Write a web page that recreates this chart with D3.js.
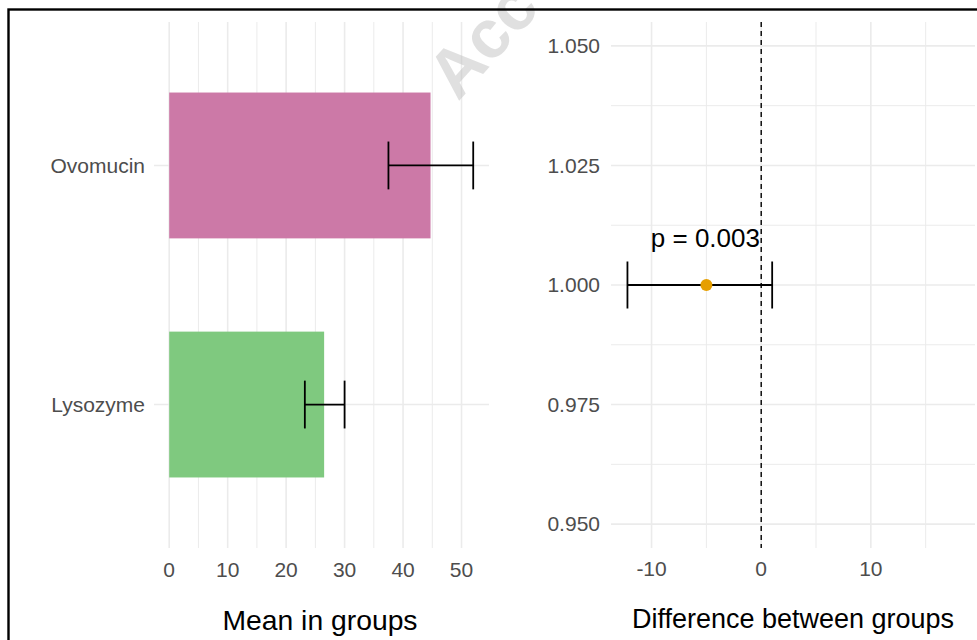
<!DOCTYPE html>
<html>
<head>
<meta charset="utf-8">
<script src="https://cdn.jsdelivr.net/npm/d3@7"></script>
<style>
  html, body { margin: 0; padding: 0; background: #fff; }
  svg { display: block; font-family: "Liberation Sans", Arial, sans-serif; }
</style>
</head>
<body>
<svg id="chart" width="977" height="640"></svg>
<script>
// ---- data ----
const categories = ["Lysozyme", "Ovomucin"];
const means = [26.5, 44.7];
const errLow = [23.2, 37.5];
const errHigh = [30.0, 52.0];
const barColors = ["#7FC97F", "#CC79A7"];

const meanTicks = [0, 10, 20, 30, 40, 50];
const meanMinorTicks = [5, 15, 25, 35, 45];

const diffEstimate = [-5.0];
const diffLow = [-12.2];
const diffHigh = [1.0];
const diffRow = [1.0];
const pLabels = ["p = 0.003"];
const diffXTicks = [-10, 0, 10];
const diffXMinor = [-5, 5, 15];
const diffYTicks = [0.950, 0.975, 1.000, 1.025, 1.050];
const diffYMinor = [0.9625, 0.9875, 1.0125, 1.0375];

(function () {
// ---- layout ----
const svg = d3.select("#chart");
const pTop = 22, pBottom = 548;
const gridColor = "#EBEBEB";
const tickColor = "#4D4D4D";

// ---------- left panel ----------
const xL = d3.scaleLinear().domain([-2.6, 54.7]).range([154, 489]);
const yLp = d3.scalePoint().domain(categories.slice().reverse()).range([pTop, pBottom]).padding(0.6);
const step = yLp.step();

const gL = svg.append("g");
gL.selectAll("line.minor").data(meanMinorTicks).join("line")
  .attr("x1", d => xL(d)).attr("x2", d => xL(d)).attr("y1", pTop).attr("y2", pBottom)
  .attr("stroke", gridColor).attr("stroke-width", 1);
gL.selectAll("line.major").data(meanTicks).join("line")
  .attr("x1", d => xL(d)).attr("x2", d => xL(d)).attr("y1", pTop).attr("y2", pBottom)
  .attr("stroke", gridColor).attr("stroke-width", 1.6);
gL.selectAll("line.hmajor").data(categories).join("line")
  .attr("x1", xL.range()[0]).attr("x2", xL.range()[1])
  .attr("y1", d => yLp(d)).attr("y2", d => yLp(d))
  .attr("stroke", gridColor).attr("stroke-width", 1.6);

// bars
gL.selectAll("rect.bar").data(categories).join("rect")
  .attr("x", xL(0)).attr("width", (d, i) => xL(means[i]) - xL(0))
  .attr("y", d => yLp(d) - step * 0.305).attr("height", step * 0.61)
  .attr("fill", (d, i) => barColors[i]);

// error bars
const eb = gL.selectAll("g.eb").data(categories).join("g");
eb.append("line")
  .attr("x1", (d, i) => xL(errLow[i])).attr("x2", (d, i) => xL(errHigh[i]))
  .attr("y1", d => yLp(d)).attr("y2", d => yLp(d))
  .attr("stroke", "#000").attr("stroke-width", 1.8);
eb.append("line")
  .attr("x1", (d, i) => xL(errLow[i])).attr("x2", (d, i) => xL(errLow[i]))
  .attr("y1", d => yLp(d) - step * 0.1).attr("y2", d => yLp(d) + step * 0.1)
  .attr("stroke", "#000").attr("stroke-width", 1.8);
eb.append("line")
  .attr("x1", (d, i) => xL(errHigh[i])).attr("x2", (d, i) => xL(errHigh[i]))
  .attr("y1", d => yLp(d) - step * 0.1).attr("y2", d => yLp(d) + step * 0.1)
  .attr("stroke", "#000").attr("stroke-width", 1.8);

// axes labels
gL.selectAll("text.xt").data(meanTicks).join("text")
  .attr("x", d => xL(d)).attr("y", 577).attr("text-anchor", "middle")
  .attr("font-size", 21).attr("fill", tickColor).text(d => d);
gL.selectAll("text.yt").data(categories).join("text")
  .attr("x", 145).attr("y", d => yLp(d)).attr("dy", "0.35em").attr("text-anchor", "end")
  .attr("font-size", 21).attr("fill", tickColor).text(d => d);
gL.append("text").attr("x", 320).attr("y", 630)
  .attr("text-anchor", "middle").attr("font-size", 28.3).attr("fill", "#000").text("Mean in groups");

// ---------- right panel ----------
const xR = d3.scaleLinear().domain([-13.7, 19.5]).range([611, 975]);
const yR = d3.scaleLinear().domain([0.945, 1.055]).range([pBottom, pTop]);

const gR = svg.append("g");
gR.selectAll("line.minx").data(diffXMinor).join("line")
  .attr("x1", d => xR(d)).attr("x2", d => xR(d)).attr("y1", pTop).attr("y2", pBottom)
  .attr("stroke", gridColor).attr("stroke-width", 1);
gR.selectAll("line.miny").data(diffYMinor).join("line")
  .attr("x1", xR.range()[0]).attr("x2", xR.range()[1]).attr("y1", d => yR(d)).attr("y2", d => yR(d))
  .attr("stroke", gridColor).attr("stroke-width", 1);
gR.selectAll("line.majx").data(diffXTicks).join("line")
  .attr("x1", d => xR(d)).attr("x2", d => xR(d)).attr("y1", pTop).attr("y2", pBottom)
  .attr("stroke", gridColor).attr("stroke-width", 1.6);
gR.selectAll("line.majy").data(diffYTicks).join("line")
  .attr("x1", xR.range()[0]).attr("x2", xR.range()[1]).attr("y1", d => yR(d)).attr("y2", d => yR(d))
  .attr("stroke", gridColor).attr("stroke-width", 1.6);

// dashed zero line
gR.append("line").attr("x1", xR(0)).attr("x2", xR(0)).attr("y1", pTop).attr("y2", pBottom)
  .attr("stroke", "#000").attr("stroke-width", 1.4).attr("stroke-dasharray", "5,4");

// error bar
const capH = 23.5;
diffRow.forEach((r, i) => {
  gR.append("line").attr("x1", xR(diffLow[i])).attr("x2", xR(diffHigh[i]))
    .attr("y1", yR(r)).attr("y2", yR(r)).attr("stroke", "#000").attr("stroke-width", 1.8);
  [diffLow[i], diffHigh[i]].forEach(v => {
    gR.append("line").attr("x1", xR(v)).attr("x2", xR(v))
      .attr("y1", yR(r) - capH).attr("y2", yR(r) + capH).attr("stroke", "#000").attr("stroke-width", 1.8);
  });
  gR.append("circle").attr("cx", xR(diffEstimate[i])).attr("cy", yR(r)).attr("r", 6).attr("fill", "#E69F00");
  gR.append("text").attr("x", xR(diffEstimate[i]) - 1).attr("y", 247).attr("text-anchor", "middle")
    .attr("font-size", 26).attr("fill", "#000").text(pLabels[i]);
});

gR.selectAll("text.xt").data(diffXTicks).join("text")
  .attr("x", d => xR(d)).attr("y", 576).attr("text-anchor", "middle")
  .attr("font-size", 21).attr("fill", tickColor).text(d => d);
gR.selectAll("text.yt").data(diffYTicks).join("text")
  .attr("x", 600).attr("y", d => yR(d)).attr("dy", "0.35em").attr("text-anchor", "end")
  .attr("font-size", 21).attr("fill", tickColor).text(d => d3.format(".3f")(d));
gR.append("text").attr("x", 793).attr("y", 628)
  .attr("text-anchor", "middle").attr("font-size", 27).attr("fill", "#000").text("Difference between groups");

// watermark
svg.append("text").attr("transform", "translate(458,102) rotate(-48)")
  .attr("font-size", 68).attr("font-weight", "bold").attr("fill", "#BBBBBB").attr("fill-opacity", 0.45)
  .text("Acc");

// border
svg.append("rect").attr("x", 8.5).attr("y", 9.5).attr("width", 1000).attr("height", 700)
  .attr("fill", "none").attr("stroke", "#000").attr("stroke-width", 2.4);
})();
</script>
</body>
</html>
